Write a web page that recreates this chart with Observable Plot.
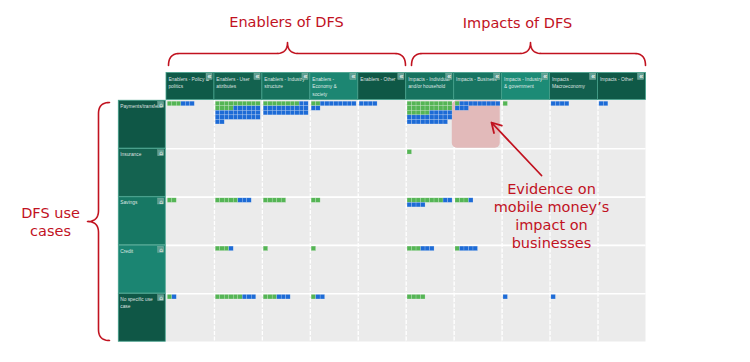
<!DOCTYPE html>
<html>
<head>
<meta charset="utf-8">
<script src="https://cdn.jsdelivr.net/npm/d3@7"></script>
<script src="https://cdn.jsdelivr.net/npm/@observablehq/plot@0.6"></script>
<style>
  html, body { margin: 0; padding: 0; background: #ffffff; }
  #chart svg { display: block; }
</style>
</head>
<body>
<div id="chart"></div>
<script>
// ---------- data ----------
const columns = [
  "Enablers - Policy & politics", "Enablers - User attributes", "Enablers - Industry structure",
  "Enablers - Economy & society", "Enablers - Other",
  "Impacts - Individual and/or household", "Impacts - Business", "Impacts - Industry & government",
  "Impacts - Macroeconomy", "Impacts - Other"
];
const columnLabels = [
  "Enablers - Policy &\npolitics", "Enablers - User\nattributes", "Enablers - Industry\nstructure",
  "Enablers -\nEconomy &\nsociety", "Enablers - Other",
  "Impacts - Individual\nand/or household", "Impacts - Business", "Impacts - Industry\n& government",
  "Impacts -\nMacroeconomy", "Impacts - Other"
];
const columnColors = ["#0f5a48", "#13624f", "#17725d", "#1c8672", "#0f5846",
                      "#17735f", "#187562", "#1c8b76", "#125f4e", "#0f5947"];
const rows = ["Payments/transfers", "Insurance", "Savings", "Credit", "No specific use case"];
const rowLabels = ["Payments/transfers", "Insurance", "Savings", "Credit", "No specific use\ncase"];
const rowColors = ["#0f5746", "#146350", "#177864", "#1b8572", "#0f5746"];

// evidence counts per cell (rows x columns)
const seriesNames = ["Series A", "Series B"];
const seriesColors = ["#55b555", "#1d6bd6"];
const greenCounts = [
  [3, 14, 8, 2, 0, 25, 1, 1, 0, 0],
  [0, 0, 0, 0, 0, 1, 0, 0, 0, 0],
  [2, 5, 5, 2, 0, 8, 3, 0, 0, 0],
  [0, 3, 1, 1, 0, 3, 1, 0, 0, 0],
  [1, 6, 3, 1, 0, 4, 0, 0, 0, 0]
];
const blueCounts = [
  [3, 28, 22, 10, 4, 24, 12, 0, 4, 2],
  [0, 0, 0, 0, 0, 0, 0, 0, 0, 0],
  [0, 3, 0, 0, 0, 6, 1, 0, 0, 0],
  [0, 1, 0, 0, 0, 3, 4, 0, 0, 0],
  [1, 3, 3, 2, 0, 0, 0, 1, 1, 0]
];
const groupLabels = ["Enablers of DFS", "Impacts of DFS"];
const sideLabel = "DFS use\ncases";
const noteLabel = "Evidence on\nmobile money\u2019s\nimpact on\nbusinesses";
const highlightCell = {c: 6, r: 0};

// ---------- layout helpers ----------
const CW = 47.95, RH = 48.3, X0 = 166, Y0 = 100;
const ux = p => (p - X0) / CW;
const uy = p => (p - Y0) / RH;
const red = "#c1121f";
const PERROW = 10;
const PX = 4.5 / CW, PY = 4.55 / RH, SX0 = 1.3 / CW, SY0 = 1.2 / RH;

const cells = [];
rows.forEach((rn, r) => columns.forEach((cn, c) => cells.push({r, c})));

const squares = [];
rows.forEach((rn, r) => columns.forEach((cn, c) => {
  const g = greenCounts[r][c], b = blueCounts[r][c];
  for (let k = 0; k < g + b; k++) {
    const x1 = c + SX0 + (k % PERROW) * PX;
    const y1 = r + SY0 + Math.floor(k / PERROW) * PY;
    squares.push({x1, x2: x1 + PX, y1, y2: y1 + PY, type: k < g ? seriesNames[0] : seriesNames[1]});
  }
}));

const headers = columns.map((name, c) => ({c, name, label: columnLabels[c], color: columnColors[c]}));
const rowHeads = rows.map((name, r) => ({r, name, label: rowLabels[r], color: rowColors[r]}));

const HY1 = uy(72.5), HY2 = uy(99.5);

// braces
function quad(p0, c, p1, n = 12) {
  const out = [];
  for (let i = 1; i <= n; i++) {
    const t = i / n, a = (1 - t) * (1 - t), b = 2 * (1 - t) * t, d = t * t;
    out.push([a * p0[0] + b * c[0] + d * p1[0], a * p0[1] + b * c[1] + d * p1[1]]);
  }
  return out;
}
function brace(a1, a2, am, bEnd, bMid, bTip, r) {
  const pts = [[a1, bEnd]];
  pts.push(...quad([a1, bEnd], [a1, bMid], [a1 + r, bMid]));
  pts.push([am - r, bMid]);
  pts.push(...quad([am - r, bMid], [am, bMid], [am, bTip]));
  pts.push(...quad([am, bTip], [am, bMid], [am + r, bMid]));
  pts.push([a2 - r, bMid]);
  pts.push(...quad([a2 - r, bMid], [a2, bMid], [a2, bEnd]));
  return pts;
}
const braceData = [
  ...brace(168, 405, 287, 65, 53, 42, 11).map(([x, y]) => ({id: "enablers", x: ux(x), y: uy(y)})),
  ...brace(411, 645, 530, 65, 53, 42, 11).map(([x, y]) => ({id: "impacts", x: ux(x), y: uy(y)})),
  ...brace(102, 340, 221, 109, 98, 87, 11).map(([y, x]) => ({id: "uses", x: ux(x), y: uy(y)}))
];

const chart = Plot.plot({
  width: 750,
  height: 362,
  margin: 0,
  style: {background: "#ffffff", fontFamily: "'Liberation Sans', Arial, sans-serif"},
  x: {domain: [ux(0), ux(750)], range: [0, 750], axis: null},
  y: {domain: [uy(0), uy(362)], range: [0, 362], axis: null},
  color: {type: "ordinal", domain: seriesNames, range: seriesColors, legend: false},
  marks: [
    // grid background
    Plot.rect(cells, {x1: d => d.c, x2: d => d.c + 1, y1: d => d.r, y2: d => d.r + 1, fill: "#ebebeb"}),
    Plot.ruleX(d3.range(1, columns.length), {y1: 0, y2: rows.length, stroke: "#ffffff", strokeWidth: 1.3, strokeDasharray: "4,1.5"}),
    Plot.ruleY(d3.range(1, rows.length), {x1: 0, x2: columns.length, stroke: "#ffffff", strokeWidth: 1.6}),
    // highlighted cell
    Plot.rect([highlightCell], {x1: d => d.c - 0.04, x2: d => d.c + 0.96, y1: d => d.r + 0.01, y2: d => d.r + 0.99, fill: "#e2baba", rx: 5}),
    // evidence squares
    Plot.rect(squares, {x1: "x1", x2: "x2", y1: "y1", y2: "y2", fill: "type", stroke: "#ffffff", strokeOpacity: 0.35, strokeWidth: 0.5}),
    // column headers
    Plot.rect(headers, {x1: d => d.c, x2: d => d.c + 1, y1: HY1, y2: HY2, fill: "color", stroke: "#45a08b", strokeWidth: 0.8}),
    Plot.text(headers, {x: d => d.c + 0.04, y: uy(75.2), text: "label", textAnchor: "start", lineAnchor: "top",
      fontSize: 4.8, lineHeight: 1.55, fill: "#ffffff", fillOpacity: 0.85}),
    Plot.rect(headers, {x1: d => d.c + 1 - 8 / CW, x2: d => d.c + 1 - 1.8 / CW, y1: uy(73.2), y2: uy(79.5),
      fill: "#5f9e90", stroke: "#ffffff", strokeOpacity: 0.3, strokeWidth: 0.5}),
    Plot.text(headers, {x: d => d.c + 1 - 4.9 / CW, y: uy(76.2), text: () => "\u00ab", fontSize: 7, fill: "#e6efec", fontWeight: "bold"}),
    // row headers
    Plot.rect(rowHeads, {x1: -0.995, x2: -0.015, y1: d => d.r + 0.005, y2: d => d.r + 0.995, fill: "color", stroke: "#45a08b", strokeWidth: 0.8}),
    Plot.text(rowHeads, {x: -0.965, y: d => d.r + 1.9 / RH, text: "label", textAnchor: "start", lineAnchor: "top",
      fontSize: 4.8, lineHeight: 1.55, fill: "#ffffff", fillOpacity: 0.85}),
    Plot.rect(rowHeads, {x1: ux(157.6), x2: ux(163.6), y1: d => d.r + 1.4 / RH, y2: d => d.r + 7.4 / RH,
      fill: "#5f9e90", stroke: "#ffffff", strokeOpacity: 0.3, strokeWidth: 0.5}),
    Plot.text(rowHeads, {x: ux(160.6), y: d => d.r + 4.6 / RH, text: () => "\u2302", fontSize: 6, fill: "#e6efec",
      fontFamily: "'DejaVu Sans', sans-serif"}),
    // annotations
    Plot.line(braceData, {x: "x", y: "y", z: "id", stroke: red, strokeWidth: 1.6, curve: "linear"}),
    Plot.text(groupLabels, {x: (d, i) => ux([286, 517][i]), y: (d, i) => uy([22, 23][i]), text: d => d,
      fontSize: 14.5, fill: red, fontFamily: "'DejaVu Sans', sans-serif"}),
    Plot.text([sideLabel], {x: ux(50), y: uy(221), text: d => d, fontSize: 14.5, lineHeight: 1.25, fill: red,
      fontFamily: "'DejaVu Sans', sans-serif"}),
    Plot.text([noteLabel], {x: ux(551), y: uy(215), text: d => d, fontSize: 14.5, lineHeight: 1.23, fill: red,
      fontFamily: "'DejaVu Sans', sans-serif"}),
    Plot.arrow([highlightCell], {x1: ux(541), y1: uy(175), x2: ux(491), y2: uy(122), stroke: red, strokeWidth: 1.8,
      headLength: 9, insetStart: 0, insetEnd: 0})
  ]
});
document.getElementById("chart").appendChild(chart);
</script>
</body>
</html>
